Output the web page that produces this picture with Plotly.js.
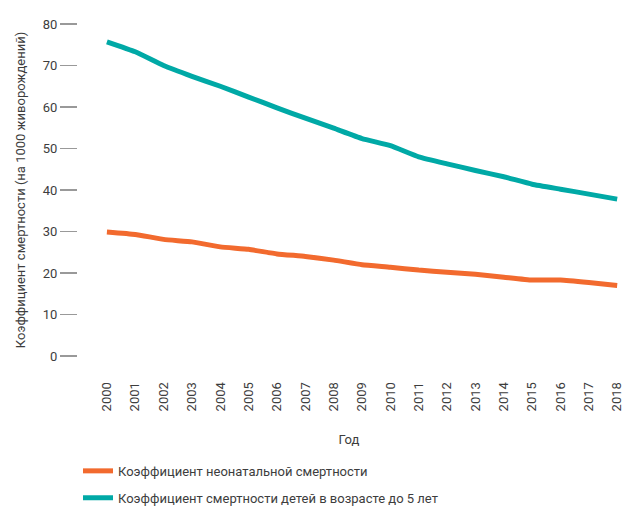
<!DOCTYPE html>
<html><head><meta charset="utf-8">
<script src="https://cdn.plot.ly/plotly-3.0.1.min.js"></script>
<style>html,body{margin:0;padding:0;background:#fff}</style>
</head><body>
<div id="chart" style="width:627px;height:506px"></div>
<script>
const years = [2000,2001,2002,2003,2004,2005,2006,2007,2008,2009,2010,2011,2012,2013,2014,2015,2016,2017,2018];
const neonatal = [29.9,29.3,28.1,27.5,26.3,25.7,24.6,24.0,23.1,22.0,21.4,20.7,20.2,19.7,19.0,18.3,18.3,17.7,17.0];
const under5 = [75.7,73.3,70.0,67.4,65.0,62.4,59.8,57.3,54.9,52.4,50.7,48.0,46.3,44.7,43.2,41.4,40.2,39.0,37.8];
const seriesNames = ["Коэффициент неонатальной смертности","Коэффициент смертности детей в возрасте до 5 лет"];
const yTicks = [0,10,20,30,40,50,60,70,80];

const FONT = "Roboto, sans-serif";
const TXT = "#3d3d3d";
const traces = [
  {x: years, y: neonatal, name: seriesNames[0], legendgroup: "a", mode: "lines", type: "scatter",
   line: {color: "#F26A2E", width: 5, shape: "spline", smoothing: 0.4}},
  {x: years, y: under5, name: seriesNames[1], legendgroup: "b", mode: "lines", type: "scatter",
   line: {color: "#00A9A6", width: 5, shape: "spline", smoothing: 0.4}}
];
const layout = {
  width: 627, height: 506,
  margin: {l: 78, r: 7, t: 24, b: 150},
  paper_bgcolor: "#fff", plot_bgcolor: "#fff",
  font: {family: FONT, size: 13, color: TXT},
  showlegend: true,
  legend: {x: 0.0, xanchor: "left", yref: "container", y: 0.099, yanchor: "top", orientation: "v",
           traceorder: "grouped", tracegroupgap: 7,
           font: {family: FONT, size: 13, color: TXT}, itemwidth: 30},
  xaxis: {
    range: [1998.98, 2018.1], tickvals: years, ticktext: years.map(String),
    tickangle: -90, showgrid: false, zeroline: false, showline: false,
    ticks: "outside", ticklen: 20, tickcolor: "rgba(0,0,0,0)",
    tickfont: {family: FONT, size: 13, color: TXT},
    title: {text: "Год", font: {family: FONT, size: 13, color: TXT}, standoff: 24}
  },
  yaxis: {
    range: [0, 80], tickvals: yTicks, showgrid: false, zeroline: false, showline: false,
    ticks: "outside", ticklen: 17, tickwidth: 1.5, tickcolor: "#999",
    tickfont: {family: FONT, size: 13, color: TXT},
    title: {text: "Коэффициент смертности (на 1000 живорождений)", font: {family: FONT, size: 13, color: TXT}, standoff: 14}
  }
};
Plotly.newPlot("chart", traces, layout, {displayModeBar: false, staticPlot: true});
</script>
</body></html>
